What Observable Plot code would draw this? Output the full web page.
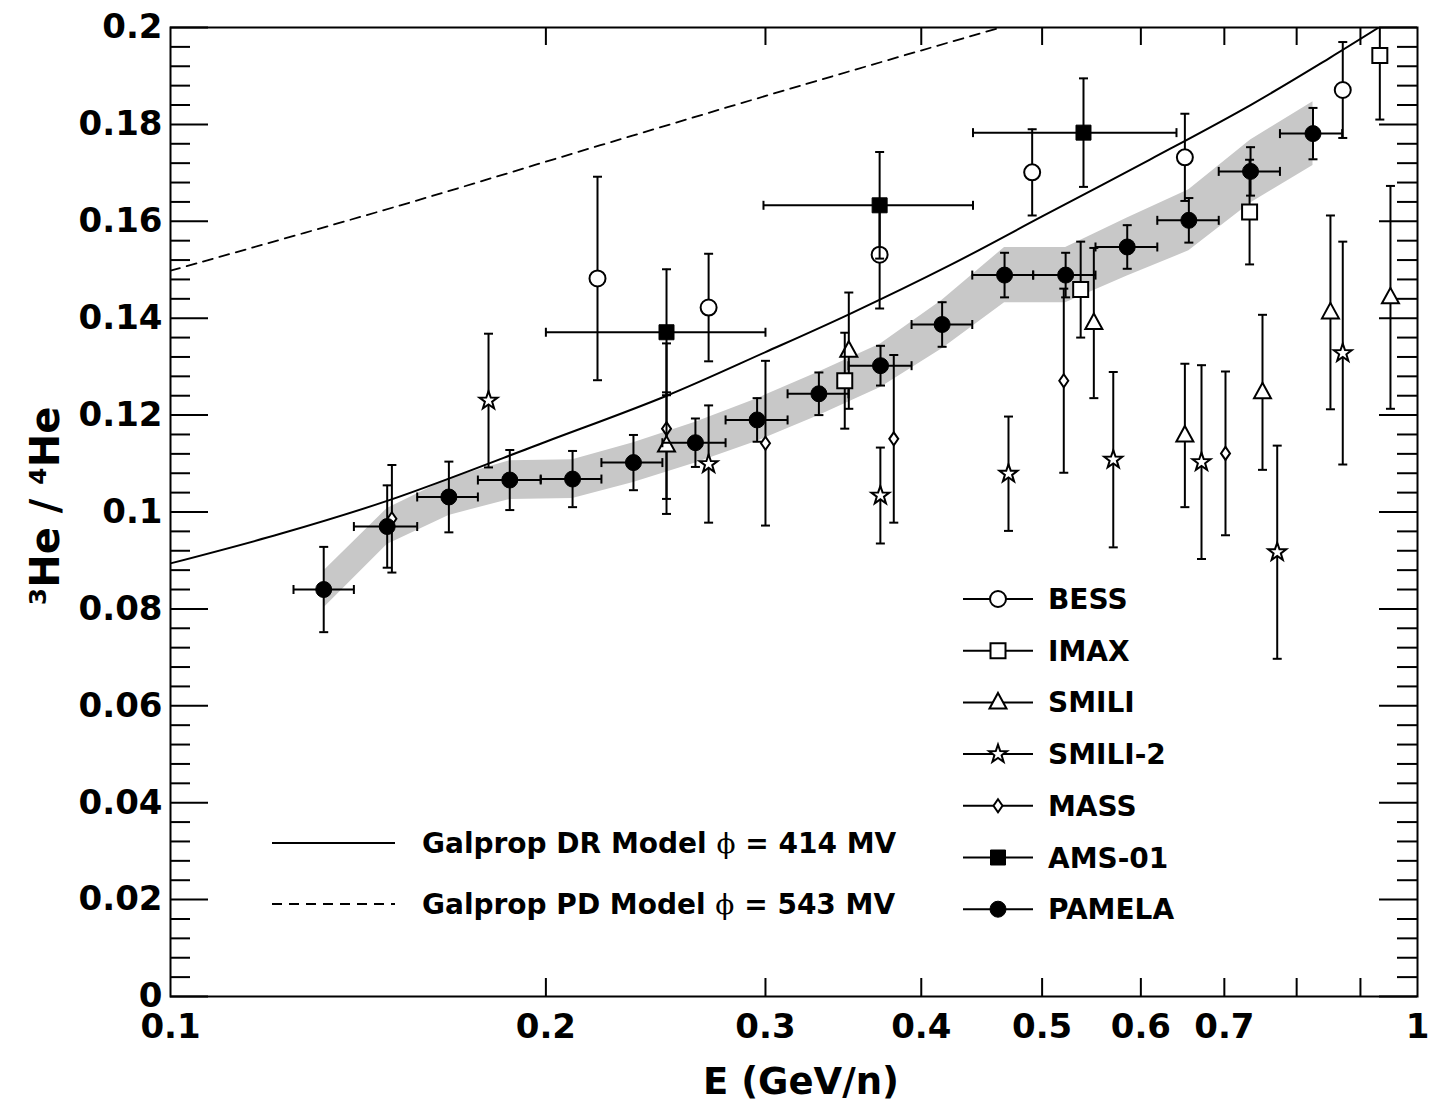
<!DOCTYPE html>
<html><head><meta charset="utf-8">
<script src="https://cdn.jsdelivr.net/npm/d3@7"></script>
<script src="https://cdn.jsdelivr.net/npm/@observablehq/plot@0.6"></script>
<style>
body{margin:0;background:#fff}
#chart{position:relative;width:1431px;height:1109px}
</style>
</head><body><div id="chart"></div>
<script>
// ---------------- data ----------------
const xTickValues = [0.1, 0.2, 0.3, 0.4, 0.5, 0.6, 0.7, 1];
const xMinorTicks = [0.2, 0.3, 0.4, 0.5, 0.6, 0.7, 0.8, 0.9];
const yTickValues = [0, 0.02, 0.04, 0.06, 0.08, 0.1, 0.12, 0.14, 0.16, 0.18, 0.2];

// PAMELA
const pamelaE   = [0.1327,0.1492,0.1672,0.1871,0.2101,0.2351,0.2636,0.2954,0.3311,0.3710,0.4157,0.4665,0.5222,0.5851,0.6556,0.7347,0.8245];
const pamelaR   = [0.0840,0.0970,0.1031,0.1066,0.1068,0.1102,0.1143,0.1190,0.1244,0.1302,0.1387,0.1489,0.1489,0.1547,0.1602,0.1703,0.1781];
const pamelaErr = [0.0088,0.0085,0.0073,0.0062,0.0058,0.0057,0.0050,0.0045,0.0044,0.0041,0.0046,0.0046,0.0046,0.0045,0.0046,0.0050,0.0053];
const pamelaSys = [0.0038,0.0037,0.0038,0.0040,0.0040,0.0041,0.0042,0.0044,0.0045,0.0045,0.0050,0.0057,0.0057,0.0060,0.0063,0.0065,0.0066];
const pamelaEdges = [0.1255,0.1403,0.1577,0.1764,0.1981,0.2216,0.2480,0.2787,0.3125,0.3497,0.3929,0.4395,0.4918,0.5518,0.6185,0.6928,0.7757,0.8701];

// BESS
const bessE   = [0.2200,0.2701,0.3704,0.4909,0.6508,0.8711];
const bessR   = [0.1482,0.1422,0.1531,0.1701,0.1732,0.1871];
const bessErr = [0.0210,0.0111,0.0111,0.0089,0.0090,0.0099];

// IMAX
const imaxE   = [0.3473,0.5369,0.7334,0.9328];
const imaxR   = [0.1271,0.1459,0.1619,0.1942];
const imaxErr = [0.0099,0.0099,0.0108,0.0132];

// SMILI
const smiliE   = [0.2499,0.3499,0.5501,0.6508,0.7511,0.8515,0.9513];
const smiliR   = [0.1137,0.1333,0.1390,0.1158,0.1247,0.1412,0.1443];
const smiliErr = [0.0110,0.0120,0.0155,0.0148,0.0160,0.0200,0.0230];

// SMILI-2
const smili2E   = [0.1799,0.2701,0.3709,0.4699,0.5702,0.6711,0.7718,0.8711];
const smili2R   = [0.1230,0.1099,0.1034,0.1079,0.1108,0.1103,0.0917,0.1328];
const smili2Err = [0.0138,0.0121,0.0099,0.0118,0.0181,0.0200,0.0220,0.0230];

// MASS
const massE   = [0.1505,0.2499,0.3000,0.3802,0.5204,0.7015];
const massR   = [0.0986,0.1172,0.1142,0.1151,0.1271,0.1121];
const massErr = [0.0111,0.0176,0.0170,0.0173,0.0190,0.0169];

// AMS-01
const amsE    = [0.2499,0.3704,0.5397];
const amsR    = [0.1371,0.1633,0.1783];
const amsErr  = [0.0130,0.0110,0.0112];
const amsElo  = [0.2000,0.2989,0.4401];
const amsEhi  = [0.3000,0.4401,0.6408];

// Galprop models
const drE = [0.1,0.1225,0.15,0.2,0.25,0.3,0.35,0.4222,0.5,0.6107,0.7347,0.85,0.931];
const drR = [0.0894,0.0955,0.1025,0.1145,0.1240,0.1330,0.1408,0.1510,0.1610,0.1728,0.1840,0.1937,0.2000];
const pdE = [0.1,0.1529,0.2212,0.3200,0.4631];
const pdR = [0.1498,0.1633,0.1757,0.1880,0.2000];

// ---------------- tables ----------------
function rows(E, R, err) { return E.map((e, i) => ({E: e, R: R[i], lo: R[i] - err[i], hi: R[i] + err[i]})); }
const pamela = pamelaE.map((e, i) => ({E: e, R: pamelaR[i], lo: pamelaR[i] - pamelaErr[i], hi: pamelaR[i] + pamelaErr[i],
  slo: pamelaR[i] - pamelaSys[i], shi: pamelaR[i] + pamelaSys[i], xlo: pamelaEdges[i], xhi: pamelaEdges[i + 1]}));
const bess = rows(bessE, bessR, bessErr);
const imax = rows(imaxE, imaxR, imaxErr);
const smili = rows(smiliE, smiliR, smiliErr);
const smili2 = rows(smili2E, smili2R, smili2Err);
const mass = rows(massE, massR, massErr);
const ams = rows(amsE, amsR, amsErr).map((d, i) => ({...d, xlo: amsElo[i], xhi: amsEhi[i]}));
const dr = drE.map((e, i) => ({E: e, R: drR[i]}));
const pd = pdE.map((e, i) => ({E: e, R: pdR[i]}));

// ---------------- symbols ----------------
const hCap = {draw(c) { c.moveTo(-4.5, 0); c.lineTo(4.5, 0); }};
const vCap = {draw(c) { c.moveTo(0, -4.5); c.lineTo(0, 4.5); }};
const circ = {draw(c) { c.moveTo(8, 0); c.arc(0, 0, 8, 0, 2 * Math.PI); c.closePath(); }};
const sq = {draw(c) { c.rect(-7.5, -7.5, 15, 15); }};
const tri = {draw(c) { c.moveTo(0, -9.5); c.lineTo(8.5, 6); c.lineTo(-8.5, 6); c.closePath(); }};
const dia = {draw(c) { c.moveTo(0, -6.5); c.lineTo(4.5, 0); c.lineTo(0, 6.5); c.lineTo(-4.5, 0); c.closePath(); }};
const star = {draw(c) {
  for (let k = 0; k < 10; ++k) {
    const a = -Math.PI / 2 + k * Math.PI / 5, r = k % 2 ? 3.8 : 9.5;
    const x = r * Math.cos(a), y = r * Math.sin(a);
    k ? c.lineTo(x, y) : c.moveTo(x, y);
  }
  c.closePath();
}};

function errMarks(data, sym, fill, withX) {
  const m = [
    Plot.ruleX(data, {x: "E", y1: "lo", y2: "hi", stroke: "black", strokeWidth: 2, clip: true}),
    Plot.dot(data, {x: "E", y: "lo", symbol: hCap, r: 4, stroke: "black", strokeWidth: 2, fill: "none", clip: true}),
    Plot.dot(data, {x: "E", y: "hi", symbol: hCap, r: 4, stroke: "black", strokeWidth: 2, fill: "none", clip: true})
  ];
  if (withX) {
    m.push(Plot.ruleY(data, {y: "R", x1: "xlo", x2: "xhi", stroke: "black", strokeWidth: 2, clip: true}));
    m.push(Plot.dot(data, {x: "xlo", y: "R", symbol: vCap, r: 4, stroke: "black", strokeWidth: 2, fill: "none", clip: true}));
    m.push(Plot.dot(data, {x: "xhi", y: "R", symbol: vCap, r: 4, stroke: "black", strokeWidth: 2, fill: "none", clip: true}));
  }
  m.push(Plot.dot(data, {x: "E", y: "R", symbol: sym, r: 8, stroke: "black", strokeWidth: fill === "black" ? 1 : 2, fill, clip: true}));
  return m;
}

const FW = 1247, FH = 969;
const yMinor = d3.range(0, 51).map(i => i * 0.004).filter((v, i) => i % 5 !== 0);

const chart = Plot.plot({
  width: 1431, height: 1109,
  marginLeft: 170, marginRight: 14, marginTop: 27, marginBottom: 113,
  x: {type: "log", domain: [0.1, 1]},
  y: {domain: [0, 0.2]},
  style: {fontFamily: "'DejaVu Sans', sans-serif", fontWeight: "bold", fontSize: "34px", background: "white", color: "black"},
  marks: [
    Plot.areaY(pamela, {x: "E", y1: "slo", y2: "shi", fill: "#c8c8c8"}),
    Plot.line(dr, {x: "E", y: "R", curve: "catmull-rom", stroke: "black", strokeWidth: 2, clip: true}),
    Plot.line(pd, {x: "E", y: "R", curve: "catmull-rom", stroke: "black", strokeWidth: 1.8, strokeDasharray: "10,7", clip: true}),
    ...errMarks(mass, dia, "white", false),
    ...errMarks(smili, tri, "white", false),
    ...errMarks(smili2, star, "white", false),
    ...errMarks(imax, sq, "white", false),
    ...errMarks(bess, circ, "white", false),
    ...errMarks(ams, sq, "black", true),
    ...errMarks(pamela, circ, "black", true),
    // ticks (inward, ROOT style)
    Plot.tickY(yTickValues, {y: d => d, insetRight: FW - 38, strokeWidth: 2}),
    Plot.tickY(yTickValues, {y: d => d, insetLeft: FW - 38, strokeWidth: 2}),
    Plot.tickY(yMinor, {y: d => d, insetRight: FW - 20, strokeWidth: 2}),
    Plot.tickY(yMinor, {y: d => d, insetLeft: FW - 20, strokeWidth: 2}),
    Plot.tickX(xMinorTicks, {x: d => d, insetTop: FH - 18, strokeWidth: 2}),
    Plot.tickX(xMinorTicks, {x: d => d, insetBottom: FH - 18, strokeWidth: 2}),
    Plot.frame({stroke: "black", strokeWidth: 2}),
    Plot.axisX({ticks: xTickValues, tickFormat: d => String(d), tickSize: 0, tickPadding: 17, label: null, fontSize: 34}),
    Plot.axisY({ticks: yTickValues, tickFormat: d => String(+d.toFixed(2)), tickSize: 0, tickPadding: 8, label: null, fontSize: 34}),
    Plot.text(["E (GeV/n)"], {text: d => d, frameAnchor: "bottom", textAnchor: "middle", lineAnchor: "middle", dx: 7, dy: 86, fontSize: 37, fontWeight: "bold"}),
    Plot.text(["³He / ⁴He"], {text: d => d, frameAnchor: "left", textAnchor: "middle", lineAnchor: "middle", rotate: -90, dx: -124, dy: -6, fontSize: 40, fontWeight: "bold"})
  ]
});
document.getElementById("chart").appendChild(chart);

// ---------------- legends ----------------
const legendNames = ["BESS", "IMAX", "SMILI", "SMILI-2", "MASS", "AMS-01", "PAMELA"];
const legendSyms = [[circ, "white"], [sq, "white"], [tri, "white"], [star, "white"], [dia, "white"], [sq, "black"], [circ, "black"]];
const svg = d3.select(chart.tagName.toLowerCase() === "svg" ? chart : chart.querySelector("svg"));
const lg = svg.append("g").attr("font-family", "'DejaVu Sans', sans-serif").attr("font-weight", "bold")
  .attr("font-size", 28).attr("text-anchor", "start").attr("fill", "black");
legendNames.forEach((name, i) => {
  const y = 599 + 51.7 * i;
  lg.append("line").attr("x1", 963).attr("x2", 1033).attr("y1", y).attr("y2", y).attr("stroke", "black").attr("stroke-width", 2);
  const p = d3.path(); legendSyms[i][0].draw(p);
  lg.append("path").attr("d", p.toString()).attr("transform", `translate(998,${y})`)
    .attr("fill", legendSyms[i][1]).attr("stroke", "black").attr("stroke-width", legendSyms[i][1] === "black" ? 1 : 2);
  lg.append("text").attr("x", 1048).attr("y", y).attr("dy", "0.36em").attr("text-anchor", "start").text(name);
});
const models = [["Galprop DR Model", "ϕ", " = 414 MV", null, 843], ["Galprop PD Model", "ϕ", " = 543 MV", "10,7", 904]];
models.forEach(([a, phi, b, dash, y]) => {
  const l = lg.append("line").attr("x1", 272).attr("x2", 395).attr("y1", y).attr("y2", y).attr("stroke", "black").attr("stroke-width", 2);
  if (dash) l.attr("stroke-dasharray", dash);
  const t = lg.append("text").attr("x", 422).attr("y", y).attr("dy", "0.36em").attr("text-anchor", "start");
  t.append("tspan").text(a + " ");
  t.append("tspan").attr("font-weight", "normal").attr("font-family", "'DejaVu Serif', serif").text(phi);
  t.append("tspan").text(b);
});
</script>
</body></html>
